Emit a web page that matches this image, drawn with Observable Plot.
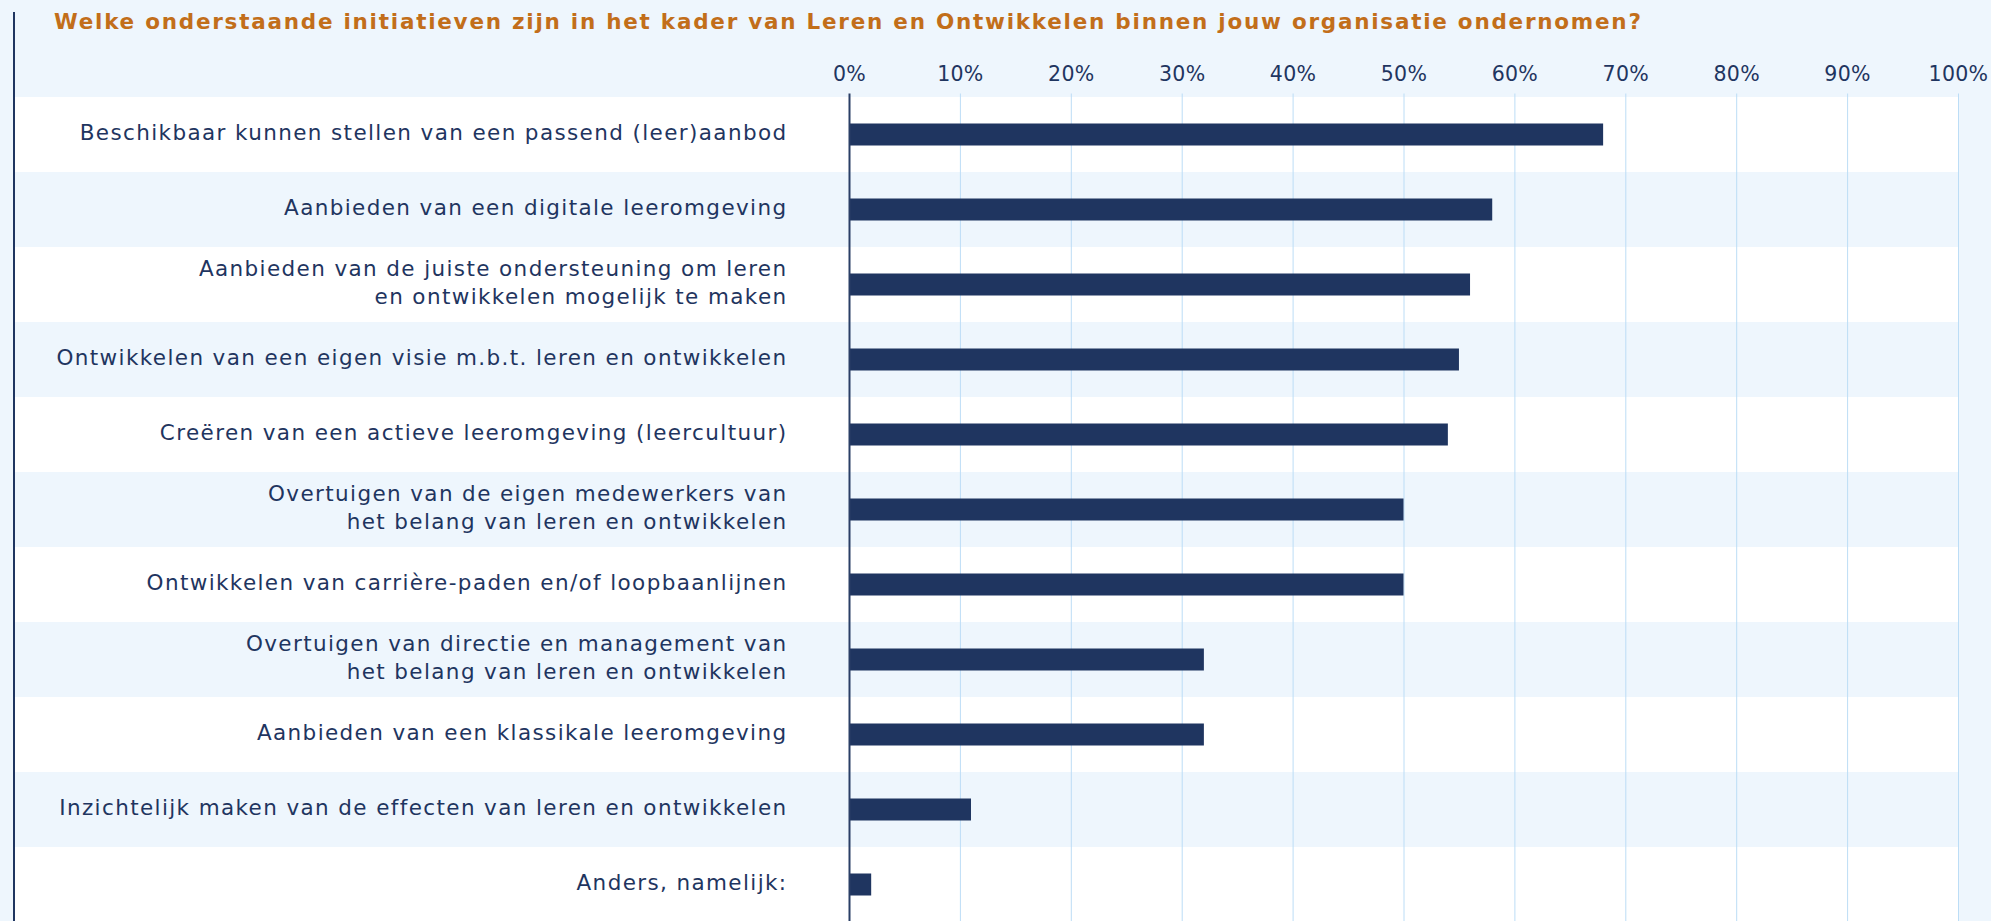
<!DOCTYPE html>
<html>
<head>
<meta charset="utf-8">
<script src="https://cdn.jsdelivr.net/npm/d3@7"></script>
<script src="https://cdn.jsdelivr.net/npm/@observablehq/plot@0.6"></script>
<style>
  html, body { margin: 0; padding: 0; background: #EEF6FD; overflow: hidden; width: 1991px; height: 921px; }
  #wrap { position: relative; width: 1991px; height: 921px; }
  #title { height: 44px; line-height: 44px; padding-left: 54px; font-family: "DejaVu Sans", sans-serif; font-weight: bold; font-size: 21.5px; letter-spacing: 1.75px; color: #C26E1A; white-space: nowrap; }
  #leftline { position: absolute; left: 13px; top: 12px; bottom: 0; width: 2px; background: #1F3560; }
  svg { display: block; }
  .lbl text { letter-spacing: 1.38px; }
  .xax text { letter-spacing: 0.3px; }
</style>
</head>
<body>
<div id="wrap">
  <div id="title">Welke onderstaande initiatieven zijn in het kader van Leren en Ontwikkelen binnen jouw organisatie ondernomen?</div>
  <div id="chart"></div>
  <div id="leftline"></div>
</div>
<script>
const categories = [
  "Beschikbaar kunnen stellen van een passend (leer)aanbod",
  "Aanbieden van een digitale leeromgeving",
  "Aanbieden van de juiste ondersteuning om leren\nen ontwikkelen mogelijk te maken",
  "Ontwikkelen van een eigen visie m.b.t. leren en ontwikkelen",
  "Creëren van een actieve leeromgeving (leercultuur)",
  "Overtuigen van de eigen medewerkers van\nhet belang van leren en ontwikkelen",
  "Ontwikkelen van carrière-paden en/of loopbaanlijnen",
  "Overtuigen van directie en management van\nhet belang van leren en ontwikkelen",
  "Aanbieden van een klassikale leeromgeving",
  "Inzichtelijk maken van de effecten van leren en ontwikkelen",
  "Anders, namelijk:"
];
const values = [68, 58, 56, 55, 54, 50, 50, 32, 32, 11, 2];
const tickValues = [0, 10, 20, 30, 40, 50, 60, 70, 80, 90, 100];

const rows = categories.map((c, i) => ({label: c, value: values[i], stripe: i % 2 === 0}));

const navy = "#1F3560";
const chart = Plot.plot({
  width: 1991,
  height: 881,
  marginTop: 49.5,
  marginLeft: 849,
  marginRight: 33,
  marginBottom: 0,
  style: {fontFamily: "DejaVu Sans, sans-serif", background: "transparent", color: navy},
  x: {domain: [0, 100], axis: null, label: null},
  y: {domain: categories, padding: 0, axis: null, label: null},
  marks: [
    Plot.barX(rows.filter(d => d.stripe), {x1: 0, x2: 100, y: "label", fill: "#FFFFFF", insetLeft: -834}),
    Plot.ruleX(tickValues.slice(1), {stroke: "#BCDDF6", strokeWidth: 1}),
    Plot.barX(rows, {x: "value", y: "label", fill: navy, insetTop: 26.5, insetBottom: 26.5}),
    Plot.ruleX([0], {stroke: "#2A3F66", strokeWidth: 2}),
    Plot.axisX({anchor: "top", ticks: tickValues, tickFormat: d => d + "%", tickSize: 0, tickPadding: 13, fontSize: 20.5, fill: navy, label: null, className: "xax"}),
    Plot.text(rows, {y: "label", text: "label", frameAnchor: "left", textAnchor: "end", dx: -62, dy: -3.5, fontSize: 21.5, lineHeight: 1.3, fill: navy, className: "lbl"})
  ]
});
document.getElementById("chart").appendChild(chart);
</script>
</body>
</html>
